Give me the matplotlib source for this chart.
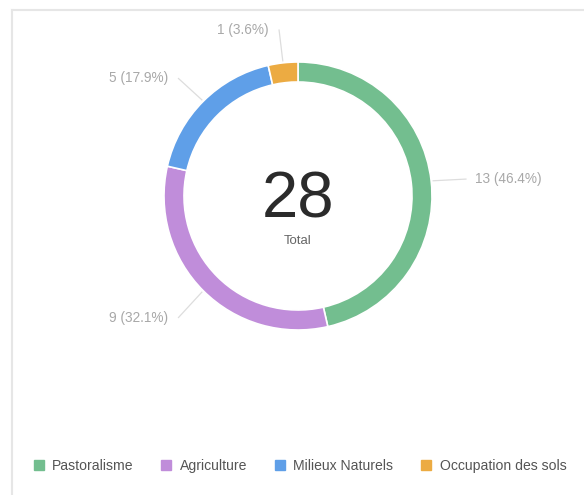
import numpy as np
import matplotlib.pyplot as plt
from matplotlib.lines import Line2D

categories = ['Pastoralisme', 'Agriculture', 'Milieux Naturels', 'Occupation des sols']
values = [13, 9, 5, 1]
colors = ['#73be8f', '#c08dda', '#5f9fe8', '#ecab42']

total = sum(values)

plt.rcParams['font.family'] = ['Liberation Sans', 'DejaVu Sans']

W, H = 584, 495
fig = plt.figure(figsize=(W / 100, H / 100), dpi=100)
ax = fig.add_axes([0, 0, 1, 1])

# card border (top and left edges)
fig.add_artist(Line2D([12 / W, 12 / W], [0, 1 - 10 / H], color='#e6e6e6', lw=1.5))
fig.add_artist(Line2D([12 / W, 1], [1 - 10 / H, 1 - 10 / H], color='#e6e6e6', lw=1.5))

cx, cy = 298, H - 196
r_out = 134
wedges, _ = ax.pie(values, colors=colors, startangle=90, counterclock=False,
                   center=(cx, cy), radius=r_out, frame=True,
                   wedgeprops=dict(width=20, edgecolor='white', linewidth=1.2))
ax.set_xlim(0, W)
ax.set_ylim(0, H)
ax.set_aspect('equal')
ax.axis('off')

# outer labels with leader lines
for w, v in zip(wedges, values):
    ang = np.deg2rad((w.theta1 + w.theta2) / 2)
    x0, y0 = cx + (r_out + 2) * np.cos(ang), cy + (r_out + 2) * np.sin(ang)
    x1, y1 = cx + 169 * np.cos(ang), cy + 169 * np.sin(ang) - 2
    ax.plot([x0, x1], [y0, y1], color='#dddddd', lw=0.9)
    pct = v / total * 100
    if np.cos(ang) >= 0:
        ax.text(x1 + 9, y1, f'{v} ({pct:.1f}%)', ha='left', va='center',
                fontsize=9.8, color='#a8a8a8')
    else:
        ax.text(x1 - 10, y1, f'{v} ({pct:.1f}%)', ha='right', va='center',
                fontsize=9.8, color='#a8a8a8')

# centre total
ax.text(cx, H - 217, str(total), ha='center', va='baseline', fontsize=47, color='#2b2b2b')
ax.text(cx, H - 241, 'Total', ha='center', va='center', fontsize=9.5, color='#666666')

# legend
handles = [Line2D([], [], marker='s', linestyle='none', markersize=7,
                  markerfacecolor=c, markeredgecolor=c) for c in colors]
fig.legend(handles, categories, loc='center', bbox_to_anchor=(300 / W, 1 - 466 / H),
           ncol=4, frameon=False, fontsize=10.1, labelcolor='#555555',
           handlelength=0.7, handletextpad=0.6, columnspacing=2.0)

fig.savefig('out.png', dpi=100)
